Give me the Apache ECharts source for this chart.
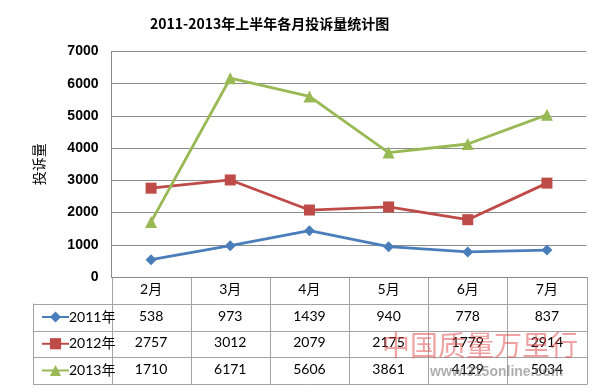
<!DOCTYPE html>
<html><head><meta charset="utf-8">
<script src="https://cdn.jsdelivr.net/npm/echarts@6/dist/echarts.min.js"></script>
<style>html,body{margin:0;padding:0;background:#fff}#c{width:600px;height:392px}</style>
</head><body><div id="c"></div>
<script>
const categories = ['2月','3月','4月','5月','6月','7月'];
const seriesNames = ['2011年','2012年','2013年'];
const v2011 = [538, 973, 1439, 940, 778, 837];
const v2012 = [2757, 3012, 2079, 2175, 1779, 2914];
const v2013 = [1710, 6171, 5606, 3861, 4129, 5034];
const yTicks = [0,1000,2000,3000,4000,5000,6000,7000];

const allValues = [v2011, v2012, v2013];
const colors = ['#4A7EBB', '#BE4B48', '#98B954'];
const symbols = ['diamond', 'rect', 'triangle'];
const symbolSizes = [11, 11, 12];

const GL = 111.5, GR = 586.5, GT = 51.5, GB = 277;
const rows = [277, 303.5, 330.5, 357, 384];
const TL = 33;
const font = 'Lato, "Noto Sans CJK SC", sans-serif';

const chart = echarts.init(document.getElementById('c'));

const lineColor = '#a3a3a3';
const graphics = [];
const colW = (GR - GL) / categories.length;
for (let k = 0; k <= categories.length; k++) {
  const x = Math.round(GL + k * colW) + 0.5;
  graphics.push({type:'line', shape:{x1:x, y1:GB, x2:x, y2:rows[4]}, style:{stroke:lineColor, lineWidth:1}, silent:true});
}
graphics.push({type:'line', shape:{x1:TL+0.5, y1:rows[1], x2:TL+0.5, y2:rows[4]}, style:{stroke:lineColor, lineWidth:1}, silent:true});
for (let r = 1; r < rows.length; r++) {
  const y = Math.round(rows[r]) + 0.5;
  graphics.push({type:'line', shape:{x1:TL, y1:y, x2:GR+1, y2:y}, style:{stroke:lineColor, lineWidth:1}, silent:true});
}
// watermark
graphics.push({type:'text', left:382, top:331, z:50, style:{text:'中国质量万里行', font:'28px "Noto Sans CJK SC"', fill:'rgba(226,70,70,0.5)'}, silent:true});
graphics.push({type:'text', left:430, top:365, z:50, style:{text:'www.315online.com', font:'bold 14px "Liberation Sans"', fill:'rgba(110,110,110,0.55)'}, silent:true});

const rowCenters = [290, 317, 343.75, 370.5];
const xAxes = [{
  type:'category', data:categories, gridIndex:0, position:'bottom',
  axisLine:{show:true, lineStyle:{color:'#8a8a8a', width:1}},
  axisTick:{show:false},
  axisLabel:{margin:5, fontSize:14, color:'#000', fontFamily:font}
}];
allValues.forEach((vals, i) => {
  xAxes.push({
    type:'category', data:categories, gridIndex:0, position:'bottom',
    offset: rowCenters[i+1] - rowCenters[0],
    axisLine:{show:false}, axisTick:{show:false}, splitLine:{show:false},
    axisLabel:{margin:5, fontSize:14, color:'#000', fontFamily:font,
      formatter:(v, idx) => String(vals[idx])}
  });
});

chart.setOption({
  animation:false,
  backgroundColor:'#fff',
  title:{text:'2011-2013年上半年各月投诉量统计图', left:145, top:12,
    textStyle:{fontSize:14, fontWeight:'bold', color:'#000', fontFamily:'"Noto Sans CJK SC", sans-serif'}},
  grid:{left:GL, right:600-GR, top:GT, bottom:392-GB, containLabel:false},
  legend:{orient:'vertical', left:36, top:305, itemWidth:27, itemHeight:14, itemGap:12.75,
    data:seriesNames, textStyle:{fontSize:14, color:'#000', fontFamily:font, padding:[0,0,0,-5]}},
  xAxis: xAxes,
  yAxis:{type:'value', min:yTicks[0], max:yTicks[yTicks.length-1], interval:1000,
    name:'投诉量', nameLocation:'middle', nameGap:66, nameRotate:90,
    nameTextStyle:{fontSize:14, color:'#000', fontFamily:'"Noto Sans CJK SC", sans-serif'},
    axisLine:{show:true, lineStyle:{color:'#8a8a8a'}}, axisTick:{show:false},
    axisLabel:{margin:13, fontSize:14, fontWeight:'bold', color:'#000', fontFamily:'"Liberation Sans", sans-serif',
      formatter:(v) => String(v)},
    splitLine:{lineStyle:{color:'#8c8c8c', width:1}}},
  graphic: graphics,
  series: allValues.map((vals, i) => ({
    name:seriesNames[i], type:'line', data:vals, xAxisIndex:0,
    symbol:symbols[i], symbolSize:symbolSizes[i], showAllSymbol:true,
    lineStyle:{color:colors[i], width:2.8}, itemStyle:{color:colors[i]}
  }))
});
</script></body></html>
